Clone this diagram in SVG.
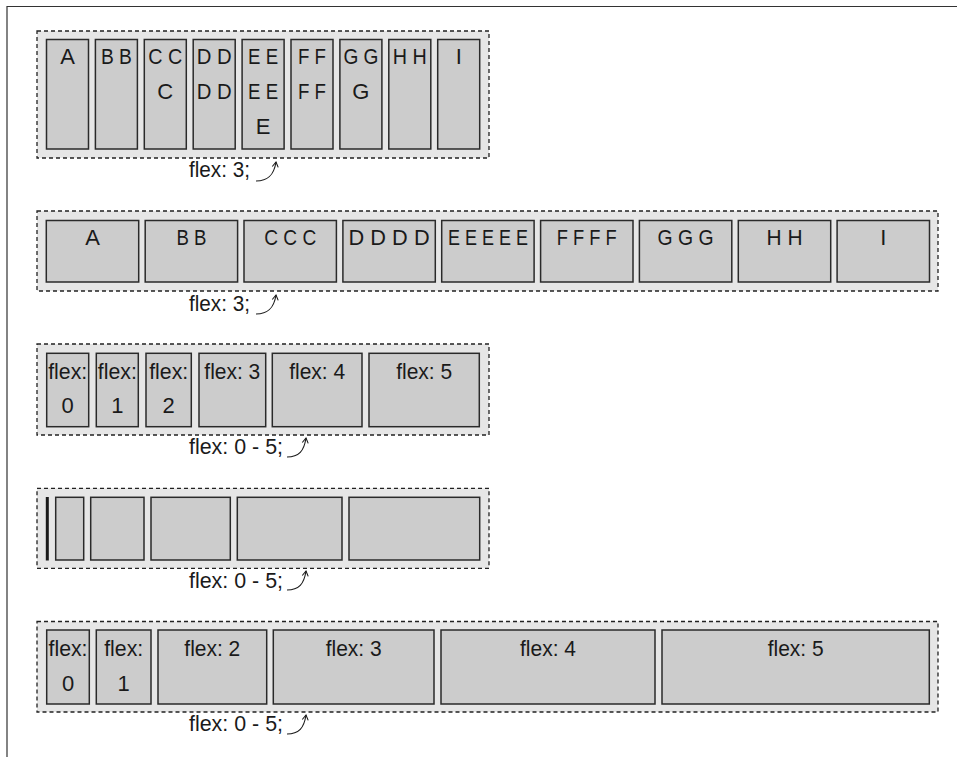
<svg xmlns="http://www.w3.org/2000/svg" width="957" height="757" viewBox="0 0 957 757">
<defs>
<style>
.frame{fill:none;stroke:#333;stroke-width:1.2}
.cont{fill:#e6e6e6;stroke:#222;stroke-width:1.3;stroke-dasharray:4 3}
.box{fill:#cccccc;stroke:#2a2a2a;stroke-width:1.5}
.bar{fill:#1a1a1a}
text{font-family:"Liberation Sans",Arial,sans-serif;font-size:22px;fill:#1a1a1a}
.c{text-anchor:middle}
.conn path{fill:none;stroke:#1a1a1a;stroke-width:1.1}
</style>
<marker id="ah" viewBox="0 0 8 8" refX="6" refY="4" markerWidth="8" markerHeight="8" markerUnits="userSpaceOnUse" orient="auto">
<path d="M1,1 L6,4 L1,7" fill="none" stroke="#1a1a1a" stroke-width="1.1"/>
</marker>
</defs>
<rect width="957" height="757" fill="#fff"/>
<path class="frame" d="M7,757 V6.5 H957"/>

<!-- Row 1 -->
<g id="row1">
<rect class="cont" x="37" y="31" width="452" height="127"/>
<g id="r1-A"><rect class="box" x="46.5" y="39.5" width="42" height="109.5"/><text class="c" x="67.5" y="64">A</text></g>
<g id="r1-B"><rect class="box" x="95.4" y="39.5" width="42" height="109.5"/><text class="c" x="116.4" y="64" textLength="31" lengthAdjust="spacingAndGlyphs">B B</text></g>
<g id="r1-C"><rect class="box" x="144.3" y="39.5" width="42" height="109.5"/><text class="c" x="165.3" y="64" textLength="34" lengthAdjust="spacingAndGlyphs">C C</text><text class="c" x="165.3" y="99">C</text></g>
<g id="r1-D"><rect class="box" x="193.2" y="39.5" width="42" height="109.5"/><text class="c" x="214.2" y="64" textLength="35" lengthAdjust="spacingAndGlyphs">D D</text><text class="c" x="214.2" y="99" textLength="35" lengthAdjust="spacingAndGlyphs">D D</text></g>
<g id="r1-E"><rect class="box" x="242.1" y="39.5" width="42" height="109.5"/><text class="c" x="263.1" y="64" textLength="30" lengthAdjust="spacingAndGlyphs">E E</text><text class="c" x="263.1" y="99" textLength="30" lengthAdjust="spacingAndGlyphs">E E</text><text class="c" x="263.1" y="134">E</text></g>
<g id="r1-F"><rect class="box" x="291" y="39.5" width="42" height="109.5"/><text class="c" x="312" y="64" textLength="28" lengthAdjust="spacingAndGlyphs">F F</text><text class="c" x="312" y="99" textLength="28" lengthAdjust="spacingAndGlyphs">F F</text></g>
<g id="r1-G"><rect class="box" x="339.9" y="39.5" width="42" height="109.5"/><text class="c" x="360.9" y="64" textLength="35" lengthAdjust="spacingAndGlyphs">G G</text><text class="c" x="360.9" y="99">G</text></g>
<g id="r1-H"><rect class="box" x="388.8" y="39.5" width="42" height="109.5"/><text class="c" x="409.8" y="64" textLength="34" lengthAdjust="spacingAndGlyphs">H H</text></g>
<g id="r1-I"><rect class="box" x="437.7" y="39.5" width="42" height="109.5"/><text class="c" x="458.7" y="64">I</text></g>
<text id="lbl1" x="189" y="177" textLength="61" lengthAdjust="spacingAndGlyphs">flex: 3;</text>
</g>

<!-- Row 2 -->
<g id="row2">
<rect class="cont" x="37" y="211" width="901" height="80"/>
<g id="r2-A"><rect class="box" x="46.3" y="220.5" width="92.4" height="61.5"/><text class="c" x="92.5" y="245">A</text></g>
<g id="r2-B"><rect class="box" x="145.2" y="220.5" width="92.4" height="61.5"/><text class="c" x="191.4" y="245" textLength="30" lengthAdjust="spacingAndGlyphs">B B</text></g>
<g id="r2-C"><rect class="box" x="244" y="220.5" width="92.4" height="61.5"/><text class="c" x="290.2" y="245" textLength="52" lengthAdjust="spacingAndGlyphs">C C C</text></g>
<g id="r2-D"><rect class="box" x="342.9" y="220.5" width="92.4" height="61.5"/><text class="c" x="389.1" y="245" textLength="81" lengthAdjust="spacingAndGlyphs">D D D D</text></g>
<g id="r2-E"><rect class="box" x="441.7" y="220.5" width="92.4" height="61.5"/><text class="c" x="487.9" y="245" textLength="80" lengthAdjust="spacingAndGlyphs">E E E E E</text></g>
<g id="r2-F"><rect class="box" x="540.6" y="220.5" width="92.4" height="61.5"/><text class="c" x="586.8" y="245" textLength="60" lengthAdjust="spacingAndGlyphs">F F F F</text></g>
<g id="r2-G"><rect class="box" x="639.4" y="220.5" width="92.4" height="61.5"/><text class="c" x="685.6" y="245" textLength="56" lengthAdjust="spacingAndGlyphs">G G G</text></g>
<g id="r2-H"><rect class="box" x="738.3" y="220.5" width="92.4" height="61.5"/><text class="c" x="784.5" y="245" textLength="36" lengthAdjust="spacingAndGlyphs">H H</text></g>
<g id="r2-I"><rect class="box" x="837.1" y="220.5" width="92.4" height="61.5"/><text class="c" x="883.3" y="245">I</text></g>
<text id="lbl2" x="189" y="311" textLength="61" lengthAdjust="spacingAndGlyphs">flex: 3;</text>
</g>

<!-- Row 3 -->
<g id="row3">
<rect class="cont" x="37" y="344" width="452" height="91"/>
<g id="r3-0"><rect class="box" x="46.7" y="353.3" width="42" height="73.4"/><text class="c" x="67.7" y="379" textLength="39" lengthAdjust="spacingAndGlyphs">flex:</text><text class="c" x="67.7" y="413">0</text></g>
<g id="r3-1"><rect class="box" x="96.3" y="353.3" width="42" height="73.4"/><text class="c" x="117.3" y="379" textLength="39" lengthAdjust="spacingAndGlyphs">flex:</text><text class="c" x="117.3" y="413">1</text></g>
<g id="r3-2"><rect class="box" x="146" y="353.3" width="45.3" height="73.4"/><text class="c" x="168.7" y="379" textLength="39" lengthAdjust="spacingAndGlyphs">flex:</text><text class="c" x="168.7" y="413">2</text></g>
<g id="r3-3"><rect class="box" x="199" y="353.3" width="66.7" height="73.4"/><text class="c" x="232.3" y="379" textLength="56" lengthAdjust="spacingAndGlyphs">flex: 3</text></g>
<g id="r3-4"><rect class="box" x="272.3" y="353.3" width="89.7" height="73.4"/><text class="c" x="317.2" y="379" textLength="56" lengthAdjust="spacingAndGlyphs">flex: 4</text></g>
<g id="r3-5"><rect class="box" x="369" y="353.3" width="110.3" height="73.4"/><text class="c" x="424.2" y="379" textLength="56" lengthAdjust="spacingAndGlyphs">flex: 5</text></g>
<text id="lbl3" x="189" y="454" textLength="94" lengthAdjust="spacingAndGlyphs">flex: 0 - 5;</text>
</g>

<!-- Row 4 -->
<g id="row4">
<rect class="cont" x="37" y="488.3" width="452" height="80"/>
<g id="r4-0"><rect class="bar" x="45.8" y="497" width="3" height="63.5"/></g>
<g id="r4-1"><rect class="box" x="55.7" y="497.3" width="28" height="62.7"/></g>
<g id="r4-2"><rect class="box" x="90.7" y="497.3" width="53.3" height="62.7"/></g>
<g id="r4-3"><rect class="box" x="151" y="497.3" width="79.3" height="62.7"/></g>
<g id="r4-4"><rect class="box" x="237.3" y="497.3" width="104.7" height="62.7"/></g>
<g id="r4-5"><rect class="box" x="349" y="497.3" width="130.7" height="62.7"/></g>
<text id="lbl4" x="189" y="588" textLength="94" lengthAdjust="spacingAndGlyphs">flex: 0 - 5;</text>
</g>

<!-- Row 5 -->
<g id="row5">
<rect class="cont" x="37" y="621.5" width="901" height="90.5"/>
<g id="r5-0"><rect class="box" x="46.7" y="630" width="42.6" height="74"/><text class="c" x="68" y="656" textLength="39" lengthAdjust="spacingAndGlyphs">flex:</text><text class="c" x="68" y="691">0</text></g>
<g id="r5-1"><rect class="box" x="96.3" y="630" width="54.7" height="74"/><text class="c" x="123.7" y="656" textLength="39" lengthAdjust="spacingAndGlyphs">flex:</text><text class="c" x="123.7" y="691">1</text></g>
<g id="r5-2"><rect class="box" x="158" y="630" width="108.7" height="74"/><text class="c" x="212.3" y="656" textLength="56" lengthAdjust="spacingAndGlyphs">flex: 2</text></g>
<g id="r5-3"><rect class="box" x="273.3" y="630" width="160.7" height="74"/><text class="c" x="353.7" y="656" textLength="56" lengthAdjust="spacingAndGlyphs">flex: 3</text></g>
<g id="r5-4"><rect class="box" x="441" y="630" width="214" height="74"/><text class="c" x="548" y="656" textLength="56" lengthAdjust="spacingAndGlyphs">flex: 4</text></g>
<g id="r5-5"><rect class="box" x="662" y="630" width="267.3" height="74"/><text class="c" x="795.7" y="656" textLength="56" lengthAdjust="spacingAndGlyphs">flex: 5</text></g>
<text id="lbl5" x="189" y="731" textLength="94" lengthAdjust="spacingAndGlyphs">flex: 0 - 5;</text>
</g>

<g id="connectors" class="conn">
<path d="M256,181 C268,181 274,175 276,162" marker-end="url(#ah)"/>
<path d="M256,314 C268,314 274,308 276,295" marker-end="url(#ah)"/>
<path d="M287,457 C299,457 304,451 306,438" marker-end="url(#ah)"/>
<path d="M287,590 C299,590 304,584 306,571" marker-end="url(#ah)"/>
<path d="M287,734 C299,734 304,728 306,715" marker-end="url(#ah)"/>
</g>
</svg>
